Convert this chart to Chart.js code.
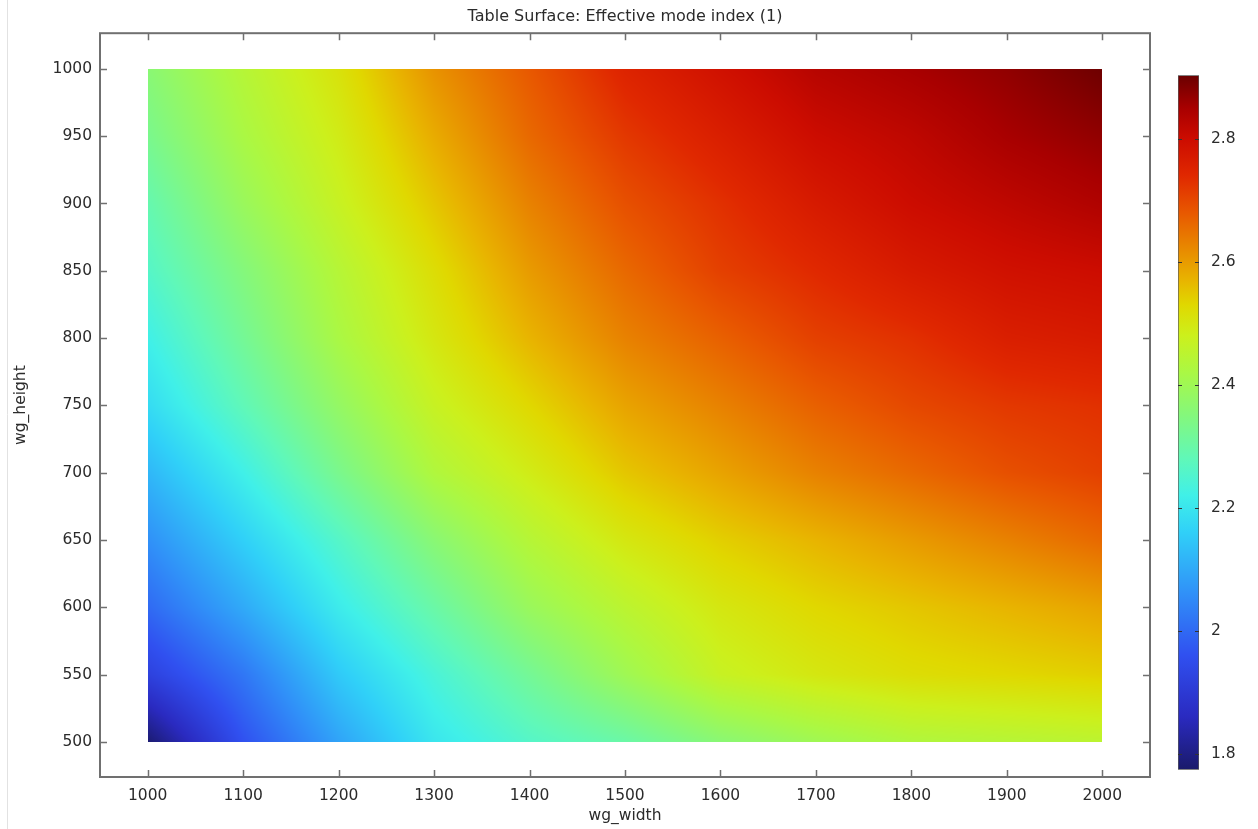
<!DOCTYPE html>
<html>
<head>
<meta charset="utf-8">
<title>Table Surface: Effective mode index (1)</title>
<script src="https://cdn.jsdelivr.net/npm/chart.js@4.4.1/dist/chart.umd.min.js"></script>
<style>
    html, body { margin: 0; padding: 0; background: #fff; }
    #wrap { position: relative; width: 1258px; height: 829px; overflow: hidden; }
    #surface { position: absolute; left: 0; top: 0; }
    #colorbar { position: absolute; left: 1170px; top: 54px; }
</style>
</head>
<body>
<div id="wrap">
    <canvas id="surface" width="1258" height="829"></canvas>
    <canvas id="colorbar" width="88" height="737"></canvas>
</div>
<script>
// sweep parameters (nm)
const widths = [1000, 1100, 1200, 1300, 1400, 1500, 1600, 1700, 1800, 1900, 2000];
const heights = [500, 550, 600, 650, 700, 750, 800, 850, 900, 950, 1000];

// effective mode index, one row per wg_height (500 -> 1000), columns follow widths
const neff = [
    [1.78, 1.96, 2.09, 2.20, 2.26, 2.30, 2.36, 2.40, 2.43, 2.44, 2.45],
    [1.92, 2.02, 2.15, 2.24, 2.32, 2.40, 2.47, 2.50, 2.52, 2.53, 2.54],
    [2.00, 2.10, 2.21, 2.30, 2.39, 2.45, 2.50, 2.53, 2.55, 2.57, 2.59],
    [2.06, 2.16, 2.26, 2.36, 2.44, 2.50, 2.54, 2.57, 2.60, 2.63, 2.66],
    [2.12, 2.22, 2.33, 2.43, 2.49, 2.55, 2.59, 2.63, 2.66, 2.69, 2.71],
    [2.18, 2.28, 2.38, 2.47, 2.53, 2.59, 2.63, 2.67, 2.70, 2.72, 2.73],
    [2.22, 2.32, 2.42, 2.50, 2.57, 2.63, 2.67, 2.71, 2.73, 2.76, 2.77],
    [2.26, 2.35, 2.44, 2.52, 2.60, 2.66, 2.71, 2.74, 2.77, 2.79, 2.80],
    [2.29, 2.39, 2.47, 2.55, 2.63, 2.69, 2.73, 2.77, 2.80, 2.82, 2.84],
    [2.33, 2.42, 2.49, 2.58, 2.66, 2.72, 2.76, 2.80, 2.82, 2.85, 2.87],
    [2.36, 2.44, 2.51, 2.61, 2.68, 2.75, 2.79, 2.83, 2.85, 2.87, 2.90],
];

// colour legend range and ticks
const cbMin = 1.774;
const cbMax = 2.903;
const cbTicks = [1.8, 2.0, 2.2, 2.4, 2.6, 2.8];

// "Rainbow" colour table
const rainbow = [
    [1.774, "#1a1a6a"], [1.86, "#2a2ac0"], [1.96, "#3050f0"], [2.06, "#3090f8"],
    [2.16, "#30d0f8"], [2.22, "#40f0e8"], [2.28, "#60f8b8"], [2.35, "#84f87c"],
    [2.42, "#aaf844"], [2.48, "#ccf01c"], [2.53, "#e0d800"], [2.57, "#e8b400"],
    [2.62, "#e88a00"], [2.68, "#e85800"], [2.74, "#e02800"], [2.80, "#cc0c00"],
    [2.85, "#a80000"], [2.903, "#6a0000"],
];

const FONT = "'DejaVu Sans', sans-serif";
const TEXT = "#2b2b2b";
const FRAME = "#707070";

const rgbStops = rainbow.map(([v, hex]) => [
    v,
    parseInt(hex.slice(1, 3), 16),
    parseInt(hex.slice(3, 5), 16),
    parseInt(hex.slice(5, 7), 16),
]);

function colorFor(v) {
    if (v <= rgbStops[0][0]) return rgbStops[0].slice(1);
    for (let i = 1; i < rgbStops.length; i++) {
        const b = rgbStops[i];
        if (v <= b[0]) {
            const a = rgbStops[i - 1];
            const t = (v - a[0]) / (b[0] - a[0]);
            return [a[1] + (b[1] - a[1]) * t, a[2] + (b[2] - a[2]) * t, a[3] + (b[3] - a[3]) * t];
        }
    }
    return rgbStops[rgbStops.length - 1].slice(1);
}

function locate(arr, v) {
    let i = 0;
    while (i < arr.length - 2 && v > arr[i + 1]) i++;
    let t = (v - arr[i]) / (arr[i + 1] - arr[i]);
    return [i, Math.min(1, Math.max(0, t))];
}

// bilinear lookup in the table, the way a table surface is shaded
function neffAt(w, h) {
    const [i, tx] = locate(widths, w);
    const [j, ty] = locate(heights, h);
    const a = neff[j][i], b = neff[j][i + 1];
    const c = neff[j + 1][i], d = neff[j + 1][i + 1];
    return (a * (1 - tx) + b * tx) * (1 - ty) + (c * (1 - tx) + d * tx) * ty;
}

// paints the surface through the chart's own x/y scales
const surfacePlugin = {
    id: "tableSurface",
    beforeDatasetsDraw(chart) {
        const { ctx } = chart;
        const xs = chart.scales.x, ys = chart.scales.y;
        const left = Math.round(xs.getPixelForValue(widths[0]));
        const right = Math.round(xs.getPixelForValue(widths[widths.length - 1]));
        const top = Math.round(ys.getPixelForValue(heights[heights.length - 1]));
        const bottom = Math.round(ys.getPixelForValue(heights[0]));
        const w = right - left, h = bottom - top;
        const off = document.createElement("canvas");
        off.width = w;
        off.height = h;
        const octx = off.getContext("2d");
        const img = octx.createImageData(w, h);
        for (let py = 0; py < h; py++) {
            const hv = ys.getValueForPixel(top + py + 0.5);
            for (let px = 0; px < w; px++) {
                const wv = xs.getValueForPixel(left + px + 0.5);
                const col = colorFor(neffAt(wv, hv));
                const k = (py * w + px) * 4;
                img.data[k] = col[0];
                img.data[k + 1] = col[1];
                img.data[k + 2] = col[2];
                img.data[k + 3] = 255;
            }
        }
        octx.putImageData(img, 0, 0);
        ctx.drawImage(off, left, top);
    },
    afterDraw(chart) {
        const { ctx, chartArea: a } = chart;
        const xs = chart.scales.x, ys = chart.scales.y;
        const len = 7;
        ctx.save();
        // thin window edge on the far left
        ctx.strokeStyle = "#e2e2e2";
        ctx.lineWidth = 1;
        ctx.beginPath();
        ctx.moveTo(7.5, 0);
        ctx.lineTo(7.5, chart.height);
        ctx.stroke();

        ctx.strokeStyle = FRAME;
        ctx.lineWidth = 1.5;
        ctx.beginPath();
        xs.ticks.forEach((t) => {
            const x = Math.round(xs.getPixelForValue(t.value)) + 0.5;
            ctx.moveTo(x, a.bottom);
            ctx.lineTo(x, a.bottom - len);
            ctx.moveTo(x, a.top);
            ctx.lineTo(x, a.top + len);
        });
        ys.ticks.forEach((t) => {
            const y = Math.round(ys.getPixelForValue(t.value)) + 0.5;
            ctx.moveTo(a.left, y);
            ctx.lineTo(a.left + len, y);
            ctx.moveTo(a.right, y);
            ctx.lineTo(a.right - len, y);
        });
        ctx.stroke();
        ctx.lineWidth = 2;
        ctx.strokeRect(a.left, a.top, a.right - a.left, a.bottom - a.top);
        ctx.restore();
    },
};

const nodes = [];
heights.forEach((h, j) => widths.forEach((w, i) => nodes.push({ x: w, y: h, v: neff[j][i] })));

new Chart(document.getElementById("surface"), {
    type: "scatter",
    data: {
        datasets: [
            {
                label: "Effective mode index (1)",
                data: nodes,
                pointRadius: 0,
                pointHoverRadius: 0,
            },
        ],
    },
    options: {
        responsive: false,
        animation: false,
        layout: { padding: { left: 0, right: 108, top: 0, bottom: 0 } },
        plugins: {
            legend: { display: false },
            tooltip: { enabled: false },
            title: {
                display: true,
                fullSize: false,
                text: "Table Surface: Effective mode index (1)",
                color: TEXT,
                font: { family: FONT, size: 16, weight: "normal", lineHeight: 1.2 },
                padding: { top: 7, bottom: 7 },
            },
        },
        scales: {
            x: {
                type: "linear",
                min: 950,
                max: 2050,
                afterBuildTicks: (s) => { s.ticks = widths.map((v) => ({ value: v })); },
                afterFit: (s) => { s.height = 52; },
                grid: { display: false, drawTicks: false },
                border: { display: false },
                ticks: {
                    padding: 10,
                    color: TEXT,
                    font: { family: FONT, size: 15.5 },
                    callback: (v) => String(v),
                },
                title: {
                    display: true,
                    text: "wg_width",
                    color: TEXT,
                    font: { family: FONT, size: 15.5, lineHeight: 1.2 },
                    padding: { top: 0, bottom: 4 },
                },
            },
            y: {
                type: "linear",
                min: 474,
                max: 1026.5,
                afterBuildTicks: (s) => { s.ticks = heights.map((v) => ({ value: v })); },
                afterFit: (s) => { s.width = 100; },
                grid: { display: false, drawTicks: false },
                border: { display: false },
                ticks: {
                    padding: 8,
                    color: TEXT,
                    font: { family: FONT, size: 15.5 },
                    callback: (v) => String(v),
                },
                title: {
                    display: true,
                    text: "wg_height",
                    color: TEXT,
                    font: { family: FONT, size: 15.5, lineHeight: 1.2 },
                    padding: { top: 12, bottom: 0 },
                },
            },
        },
    },
    plugins: [surfacePlugin],
});

// colour legend: one floating bar spanning the data range, shaded with the same table
const cbTickPlugin = {
    id: "cbTicks",
    afterDatasetsDraw(chart) {
        const { ctx, chartArea: a } = chart;
        const ys = chart.scales.y;
        ctx.save();
        ctx.strokeStyle = "#333";
        ctx.lineWidth = 1.2;
        ctx.beginPath();
        cbTicks.forEach((v) => {
            const y = Math.round(ys.getPixelForValue(v)) + 0.5;
            ctx.moveTo(a.left, y);
            ctx.lineTo(a.left + 4, y);
            ctx.moveTo(a.right, y);
            ctx.lineTo(a.right - 4, y);
        });
        ctx.stroke();
        ctx.restore();
    },
};

new Chart(document.getElementById("colorbar"), {
    type: "bar",
    data: {
        labels: [""],
        datasets: [
            {
                data: [[cbMin, cbMax]],
                backgroundColor: (c) => {
                    const chart = c.chart;
                    const ys = chart.scales.y;
                    if (!chart.chartArea || !ys) return "#888";
                    const g = chart.ctx.createLinearGradient(0, ys.getPixelForValue(cbMin), 0, ys.getPixelForValue(cbMax));
                    rainbow.forEach(([v, col]) => g.addColorStop((v - cbMin) / (cbMax - cbMin), col));
                    return g;
                },
                borderColor: "#5a5a5a",
                borderWidth: 1,
                borderSkipped: false,
                barPercentage: 1,
                categoryPercentage: 1,
            },
        ],
    },
    options: {
        responsive: false,
        animation: false,
        layout: { padding: { left: 8, top: 16, bottom: 21, right: 0 } },
        plugins: { legend: { display: false }, tooltip: { enabled: false } },
        scales: {
            x: { display: false },
            y: {
                position: "right",
                min: cbMin,
                max: cbMax,
                afterBuildTicks: (s) => { s.ticks = cbTicks.map((v) => ({ value: v })); },
                afterFit: (s) => { s.width = 59; },
                grid: { display: false, drawTicks: false },
                border: { display: false },
                ticks: {
                    padding: 12,
                    color: TEXT,
                    font: { family: FONT, size: 15.5 },
                    callback: (v) => String(+v.toFixed(1)),
                },
            },
        },
    },
    plugins: [cbTickPlugin],
});
</script>
</body>
</html>
